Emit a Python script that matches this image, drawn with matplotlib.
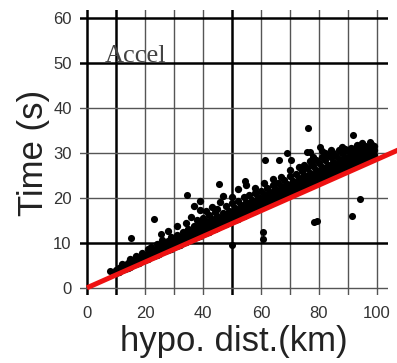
#!/usr/bin/env python3
"""
Arrival time vs hypocentral distance (Accel)
Scatter of picked arrival times with a reference travel-time line
"""

import matplotlib.pyplot as plt

# Dense band of picks: one row of times (s) per hypocentral distance (km)
band_dist = list(range(10, 100))
band_times = [
    [3.3, 4.0], [3.6, 4.4], [3.9, 4.8, 5.3], [4.2, 5.0], [4.5, 5.6],
    [4.7, 5.4, 6.3], [5.0, 6.0], [5.3, 6.4, 7.0], [5.6, 6.2], [5.9, 7.1, 7.8],
    [6.2, 6.9], [6.5, 7.6, 8.6], [6.8, 7.4, 9.0], [7.1, 8.1], [7.4, 8.6, 9.8],
    [7.6, 8.3, 9.3], [7.9, 9.0, 10.6], [8.2, 9.6], [8.5, 9.2, 10.4, 12.6], [8.7, 10.0, 11.3],
    [9.0, 9.8, 10.8], [9.3, 10.5, 11.8, 13.8], [9.6, 10.3, 11.4], [9.9, 11.0, 12.5], [10.2, 10.9, 12.0, 14.4],
    [10.5, 11.6, 13.1], [10.8, 11.4, 12.6, 15.8], [11.1, 12.2, 13.7, 18.3], [11.3, 12.0, 13.2, 15.0], [11.6, 12.8, 14.4, 17.4, 19.4],
    [11.9, 12.6, 13.8, 15.6], [12.2, 13.4, 14.8, 17.0], [12.5, 13.2, 14.2, 16.2], [12.8, 14.0, 15.4, 18.0], [13.1, 13.8, 14.9, 16.8],
    [13.4, 14.6, 16.0, 17.6], [13.7, 14.4, 15.6, 19.0], [14.0, 15.2, 16.6, 20.5], [14.3, 15.0, 16.2, 18.2], [14.6, 15.8, 17.2],
    [14.9, 15.6, 16.8, 18.8, 20.2], [15.1, 16.4, 17.8], [15.4, 16.2, 17.4, 19.4, 22.0], [15.7, 17.0, 18.4], [16.0, 16.8, 18.0, 20.2],
    [16.3, 17.6, 19.0, 22.8], [16.6, 17.4, 18.6, 20.6], [16.9, 18.2, 19.6], [17.2, 18.0, 19.2, 21.2, 22.2], [17.5, 18.8, 20.2],
    [17.8, 18.6, 19.8, 21.6], [18.1, 19.4, 20.8, 23.4], [18.4, 19.2, 20.4, 22.2], [18.7, 20.0, 21.4], [19.0, 19.8, 21.0, 22.8, 24.2],
    [19.3, 20.6, 22.0], [19.6, 20.4, 21.6, 23.4], [19.9, 21.2, 22.6, 24.6], [20.2, 21.0, 22.2, 24.0], [20.5, 21.8, 23.2],
    [20.8, 21.6, 22.8, 24.8, 26.2], [21.1, 22.4, 23.8], [21.4, 22.2, 23.4, 25.4], [21.7, 23.0, 24.4, 26.8], [22.0, 22.8, 24.0, 26.0],
    [22.3, 23.6, 25.0, 27.4], [22.6, 23.4, 24.6, 26.6], [22.9, 24.2, 25.6, 28.2], [23.2, 24.0, 25.2, 27.2, 29.0], [23.5, 24.8, 26.2, 28.4],
    [23.8, 24.6, 25.8, 27.8], [24.1, 25.4, 26.8, 29.0], [24.4, 25.2, 26.4, 28.4, 30.0], [24.7, 26.0, 27.4, 29.6], [25.0, 25.8, 27.0, 29.0, 30.6],
    [25.3, 26.6, 28.0, 30.0], [25.6, 26.4, 27.6, 29.4], [25.9, 27.2, 28.6, 30.6], [26.2, 27.0, 28.2, 30.0, 31.4], [26.5, 27.8, 29.2, 30.8],
    [26.8, 27.6, 28.8, 30.4], [27.1, 28.4, 29.8, 31.2], [27.4, 28.2, 29.4, 30.8], [27.7, 29.0, 30.4, 31.8], [28.0, 28.8, 30.0, 31.4],
    [28.3, 29.6, 31.0, 32.2], [28.6, 29.4, 30.6, 31.6], [28.9, 30.2, 31.4], [29.2, 30.0, 31.2, 32.0], [29.5, 30.6, 31.6],
]

# Isolated picks away from the band
outlier_dist = [7.9, 15.2, 23.1, 25.5, 34.6, 45.5, 54.5, 61.4, 66.2, 69.0, 70.3,
                75.9, 76.9, 76.2, 77.2, 80.3, 81.2, 91.6, 97.6,
                50.0, 60.7, 60.7, 78.3, 79.2, 91.4, 94.1]
outlier_time = [3.8, 11.1, 15.3, 12.0, 20.7, 23.0, 23.7, 28.5, 28.4, 29.9, 28.4,
                30.3, 30.2, 35.6, 27.8, 31.3, 30.4, 34.0, 32.4,
                9.6, 12.4, 10.9, 14.7, 14.9, 16.0, 19.8]

# Reference travel-time line (velocity in km/s)
line_velocity = 3.5
line_dist = [0, 110]

xticks = [0, 20, 40, 60, 80, 100]
yticks = [0, 10, 20, 30, 40, 50, 60]

fig = plt.figure(figsize=(3.97, 3.63), dpi=100)
ax = fig.add_axes([0.2015, 0.1873, 0.7758, 0.7851])

# Grid drawn by hand: some lines heavier than others
for x in range(0, 101, 10):
    heavy = x in (0, 10, 50)
    ax.axvline(x, color='black' if heavy else '#555555', lw=1.8 if heavy else 1.0, zorder=1)
for y in range(0, 61, 10):
    heavy = y in (10, 50, 60)
    ax.axhline(y, color='black' if heavy else '#555555', lw=1.8 if heavy else 1.0, zorder=1)

pts_x = [d for d, ts in zip(band_dist, band_times) for _ in ts]
pts_y = [t for ts in band_times for t in ts]
ax.scatter(pts_x, pts_y, s=28, c='black', marker='o', linewidths=0, zorder=3)
ax.scatter(outlier_dist, outlier_time, s=26, c='black', marker='o', linewidths=0, zorder=3)

ax.plot(line_dist, [d / line_velocity for d in line_dist], color='#ee1111', lw=3.6,
        solid_capstyle='butt', clip_on=False, zorder=4)

ax.text(6.0, 50.3, 'Accel', family='Liberation Serif', fontsize=19, color='#444444',
        va='baseline', ha='left', zorder=2)

ax.set_xlim(-2.4, 103.8)
ax.set_ylim(-1.6, 61.8)
ax.set_xticks(xticks)
ax.set_yticks(yticks)
for s in ax.spines.values():
    s.set_visible(False)
ax.tick_params(length=0, labelsize=12, labelcolor='#333333')
ax.tick_params(axis='x', pad=8)
ax.tick_params(axis='y', pad=6)
for lab in ax.get_xticklabels() + ax.get_yticklabels():
    lab.set_family('Liberation Sans')

ax.set_xlabel('hypo. dist.(km)', family='Liberation Sans', fontsize=25, color='#222222', labelpad=3)
ax.set_ylabel('Time (s)', family='Liberation Sans', fontsize=25, color='#222222', labelpad=2)

plt.savefig('out.png', dpi=100)
